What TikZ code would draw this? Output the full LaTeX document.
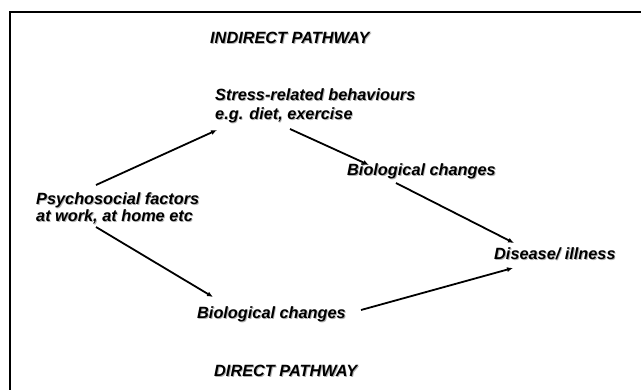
\documentclass[tikz,border=0pt]{standalone}
\usepackage{fontspec}
\setmainfont{Liberation Sans}
\usetikzlibrary{arrows.meta,calc}
\newcommand\shd[1]{\rlap{\kern0.9pt\raisebox{-0.9pt}{\color{black!30}#1}}#1}
\begin{document}
\begin{tikzpicture}[x=1pt,y=-1pt,
  lbl/.style={anchor=west,inner sep=0pt,align=left,font=\fontsize{16.3}{19}\selectfont\bfseries\itshape},
  lbltight/.style={lbl,font=\fontsize{16.3}{16}\selectfont\bfseries\itshape},
  arr/.style={line width=1.8pt,-{Latex[length=6pt,width=5pt]}},
  frame/.style={line width=1.2pt}]
\useasboundingbox (0,0) rectangle (641,389);
\coordinate (fb) at (10,392);
\coordinate (fc) at (10,12);
\coordinate (fr) at (644,12);
\draw[frame] (fb) -- (fc) -- (fr);
\node[lbl] (ind) at (210,38) {\shd{INDIRECT PATHWAY}};
\node[lbl] (stress) at (215,106.5) {\shd{Stress-related behaviours}\\\shd{e.g. diet, exercise}};
\node[lbltight] (psy) at (36,208.5) {\shd{Psychosocial factors}\\\shd{at work, at home etc}};
\node[lbl] (bio1) at (347,172) {\shd{Biological changes}};
\node[lbl] (dis) at (494,254) {\shd{Disease/ illness}};
\node[lbl] (bio2) at (197,315) {\shd{Biological changes}};
\node[lbl] (dir) at (214,371) {\shd{DIRECT PATHWAY}};
\draw[arr] ($(psy.west)+(60,-23.5)$) -- ($(stress.west)+(2,23.5)$);
\draw[arr] ($(stress.west)+(75,22.5)$) -- ($(bio1.west)+(22,-7)$);
\draw[arr] ($(bio1.west)+(49,11)$) -- ($(dis.west)+(20,-11)$);
\draw[arr] ($(psy.west)+(60,18.5)$) -- ($(bio2.west)+(16,-18)$);
\draw[arr] ($(bio2.west)+(164,-5)$) -- ($(dis.west)+(19,14)$);
\end{tikzpicture}
\end{document}
